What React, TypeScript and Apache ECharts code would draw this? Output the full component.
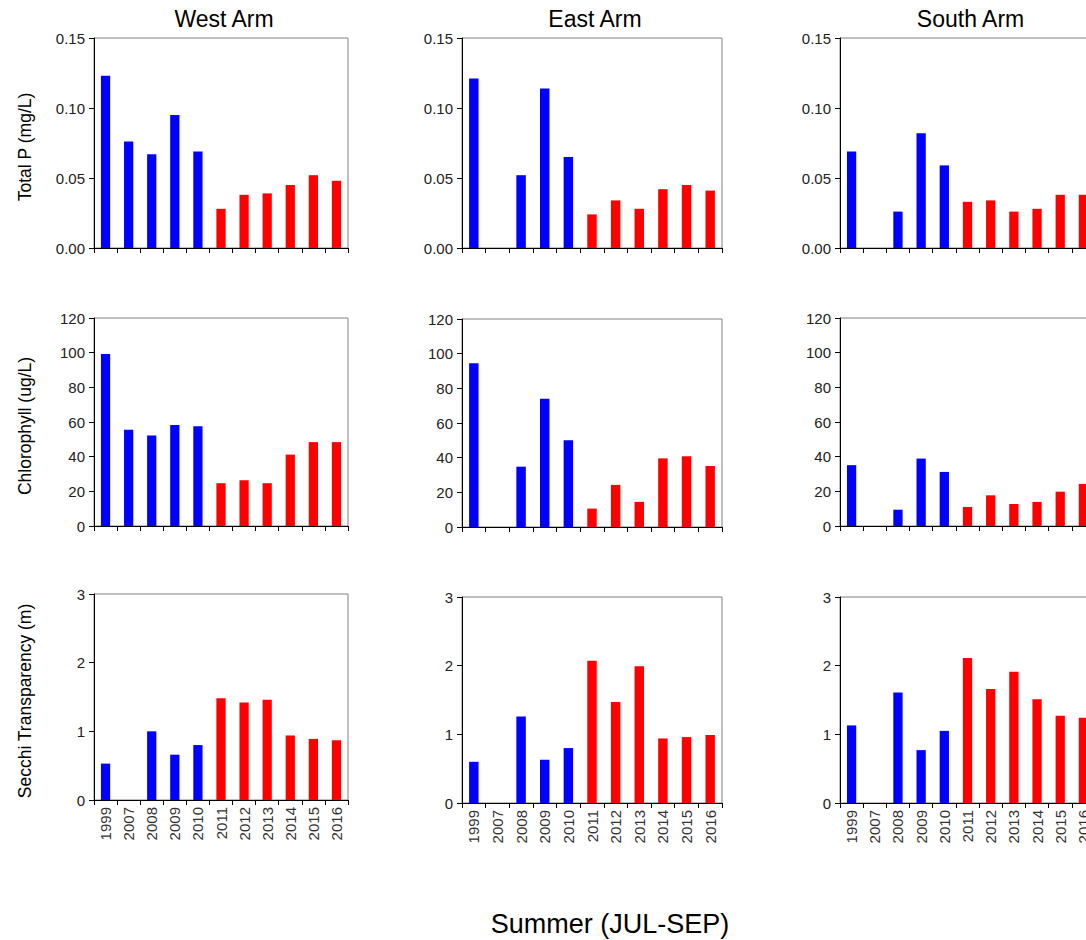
import React, { useEffect, useRef } from "react";
import * as echarts from "echarts";

// Summer (JUL-SEP) water quality by arm of the lake
const years = ["1999", "2007", "2008", "2009", "2010", "2011", "2012", "2013", "2014", "2015", "2016"];
const arms = ["West Arm", "East Arm", "South Arm"];
const metrics = ["Total P (mg/L)", "Chlorophyll (ug/L)", "Secchi Transparency (m)"];
const xTitle = "Summer (JUL-SEP)";

const westTP = [0.123, 0.076, 0.067, 0.095, 0.069, 0.028, 0.038, 0.039, 0.045, 0.052, 0.048];
const eastTP = [0.121, null, 0.052, 0.114, 0.065, 0.024, 0.034, 0.028, 0.042, 0.045, 0.041];
const southTP = [0.069, null, 0.026, 0.082, 0.059, 0.033, 0.034, 0.026, 0.028, 0.038, 0.038];

const westChl = [99.2, 55.5, 52.2, 58.2, 57.6, 24.7, 26.4, 24.7, 41.2, 48.4, 48.4];
const eastChl = [94.5, null, 34.8, 74.0, 50.0, 10.6, 24.3, 14.5, 39.6, 40.8, 35.2];
const southChl = [35.1, null, 9.4, 38.9, 31.2, 11.0, 17.7, 12.7, 13.9, 19.8, 24.3];

const westSecchi = [0.53, null, 1.0, 0.66, 0.8, 1.48, 1.42, 1.46, 0.94, 0.89, 0.87];
const eastSecchi = [0.6, null, 1.26, 0.63, 0.8, 2.07, 1.47, 1.99, 0.94, 0.96, 0.99];
const southSecchi = [1.13, null, 1.61, 0.77, 1.05, 2.11, 1.66, 1.91, 1.51, 1.27, 1.24];

// y scales per metric row
const yMax = [0.15, 120, 3];
const yStep = [0.05, 20, 1];
const yDecimals = [2, 0, 0];

// years after this one are drawn in red
const lastEarlyYear = 2010;

const FONT = "'Liberation Sans', Arial, sans-serif";
const BLUE = "#0000ff";
const RED = "#ff0000";

const rows = [
  [westTP, eastTP, southTP],
  [westChl, eastChl, southChl],
  [westSecchi, eastSecchi, southSecchi],
];

const colLeft = [94, 462, 840];
const colWidth = [254, 260, 255];
const cellTop = [
  [38, 38, 38],
  [318, 319, 318],
  [594, 597, 597],
];
const rowHeight = [210, 208, 206];

export default function App() {
  const ref = useRef<HTMLDivElement>(null);

  useEffect(() => {
    if (!ref.current) return;
    const chart = echarts.init(ref.current, null, { renderer: "svg" });

    const grids: any[] = [];
    const xAxes: any[] = [];
    const yAxes: any[] = [];
    const series: any[] = [];
    const graphics: any[] = [];

    rows.forEach((row, r) => {
      row.forEach((values, c) => {
        const idx = grids.length;
        grids.push({
          left: colLeft[c],
          top: cellTop[r][c],
          width: colWidth[c],
          height: rowHeight[r],
          show: true,
          borderColor: "#808080",
          borderWidth: 1,
          backgroundColor: "transparent",
          containLabel: false,
        });
        xAxes.push({
          type: "category",
          gridIndex: idx,
          data: years,
          boundaryGap: true,
          axisLine: { lineStyle: { color: "#000", width: 1 } },
          axisTick: { show: true, length: 5, inside: false, lineStyle: { color: "#000" } },
          axisLabel: {
            show: r === 2,
            rotate: 90,
            interval: 0,
            margin: 7,
            fontFamily: FONT,
            fontSize: 15,
            color: "#333",
          },
          splitLine: { show: false },
        });
        yAxes.push({
          type: "value",
          gridIndex: idx,
          min: 0,
          max: yMax[r],
          interval: yStep[r],
          axisLine: { show: true, lineStyle: { color: "#000", width: 1 } },
          axisTick: { show: true, length: 5, inside: false, lineStyle: { color: "#000" } },
          axisLabel: {
            margin: 9,
            fontFamily: FONT,
            fontSize: 15,
            color: "#222",
            formatter: (v: number) => v.toFixed(yDecimals[r]),
          },
          splitLine: { show: false },
        });
        series.push({
          type: "bar",
          xAxisIndex: idx,
          yAxisIndex: idx,
          barWidth: "40%",
          data: values.map((v, i) => ({
            value: v,
            itemStyle: { color: Number(years[i]) > lastEarlyYear ? RED : BLUE },
          })),
        });
      });
    });

    // column titles
    arms.forEach((name, c) => {
      graphics.push({
        type: "text",
        x: colLeft[c] + colWidth[c] / 2 + 3,
        y: 19,
        style: {
          text: name,
          font: `23px ${FONT}`,
          fill: "#000",
          align: "center",
          verticalAlign: "middle",
        },
      });
    });

    // row titles
    metrics.forEach((name, r) => {
      graphics.push({
        type: "text",
        x: 25,
        y: cellTop[r][0] + rowHeight[r] / 2 + 4,
        rotation: Math.PI / 2,
        style: {
          text: name,
          font: `17.5px ${FONT}`,
          fill: "#000",
          align: "center",
          verticalAlign: "middle",
        },
      });
    });

    graphics.push({
      type: "text",
      x: 610,
      y: 924,
      style: {
        text: xTitle,
        font: `27px ${FONT}`,
        fill: "#000",
        align: "center",
        verticalAlign: "middle",
      },
    });

    chart.setOption({
      animation: false,
      backgroundColor: "#fff",
      grid: grids,
      xAxis: xAxes,
      yAxis: yAxes,
      series,
      graphic: graphics,
    });

    return () => chart.dispose();
  }, []);

  // the drawing surface is wider than the page so the last panel runs off its right edge
  return (
    <div style={{ position: "absolute", left: 0, top: 0, width: 1086, height: 940, overflow: "hidden" }}>
      <div ref={ref} style={{ width: 1110, height: 940 }} />
    </div>
  );
}
